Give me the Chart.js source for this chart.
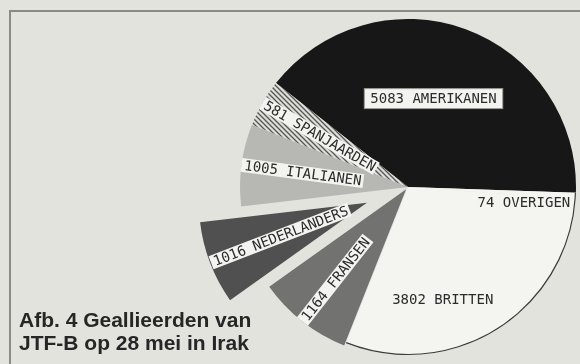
<!DOCTYPE html>
<html>
<head>
<meta charset="utf-8">
<script src="https://cdn.jsdelivr.net/npm/chart.js@4"></script>
<style>
  html, body { margin:0; padding:0; background:#e3e3de; }
  #wrap { position:relative; width:580px; height:364px; overflow:hidden; background:#e3e3de; }
  #frame { position:absolute; left:9px; top:10px; width:600px; height:400px;
           border-top:2px solid #8a8a86; border-left:2px solid #8a8a86; }
  #chart { position:absolute; left:0; top:0; }
  #caption { position:absolute; left:19px; top:308px; font:bold 21px/23px "Liberation Sans", Arial, sans-serif;
             color:#262626; white-space:nowrap; }
</style>
</head>
<body>
<div id="wrap">
  <div id="frame"></div>
  <canvas id="chart" width="580" height="364"></canvas>
  <div id="caption">Afb. 4 Geallieerden van<br>JTF-B op 28 mei in Irak</div>
</div>
<script>
// troops per nation, clockwise starting at the top-left edge of the black slice
const nations = ['AMERIKANEN', 'OVERIGEN', 'BRITTEN', 'FRANSEN', 'NEDERLANDERS', 'ITALIANEN', 'SPANJAARDEN'];
const troops  = [5083, 74, 3802, 1164, 1016, 1005, 581];

// hatch for the spanish slice
function hatch() {
  const c = document.createElement('canvas');
  c.width = 5; c.height = 5;
  const g = c.getContext('2d');
  g.fillStyle = '#dededa'; g.fillRect(0, 0, 5, 5);
  g.strokeStyle = '#555553'; g.lineWidth = 1.3;
  g.beginPath();
  g.moveTo(-1, -1); g.lineTo(6, 6);
  g.moveTo(-1, 4); g.lineTo(1, 6);
  g.moveTo(4, -1); g.lineTo(6, 1);
  g.stroke();
  return document.getElementById('chart').getContext('2d').createPattern(c, 'repeat');
}

const fills   = ['#171717', '#f4f4f1', '#f4f4f1', '#727270', '#505050', '#b7b7b3', hatch()];
const explode = [0, 0, 0, 3, 44, 0, 0];
const outline = [false, true, true, false, false, false, false];
// label placement: radial = along the slice, flat = horizontal
const place = [
  { mode:'flat', r:92, turn:-4, box:true },
  { mode:'flat', r:163, turn:2.5, align:'right' },
  { mode:'flat', r:118, turn:15 },
  { mode:'radial', r:165 },
  { mode:'radial', r:164 },
  { mode:'radial', r:165 },
  { mode:'radial', r:165 },
];

const explodePlugin = {
  id: 'explode',
  afterDatasetUpdate(chart, args) {
    args.meta.data.forEach((el, i) => {
      if (!explode[i]) return;
      const mid = (el.startAngle + el.endAngle) / 2;
      el.x += Math.cos(mid) * explode[i];
      el.y += Math.sin(mid) * explode[i];
    });
  }
};

const labelPlugin = {
  id: 'sliceLabels',
  afterDatasetsDraw(chart) {
    const ctx = chart.ctx;
    const arcs = chart.getDatasetMeta(0).data;
    ctx.save();
    // thin rim on the white slices
    ctx.strokeStyle = '#3c3c3c'; ctx.lineWidth = 1.2;
    arcs.forEach((el, i) => {
      if (!outline[i]) return;
      ctx.beginPath();
      ctx.arc(el.x, el.y, el.outerRadius - 0.5, el.startAngle, el.endAngle);
      ctx.stroke();
    });

    ctx.font = '14px "DejaVu Sans Mono", "Liberation Mono", monospace';
    ctx.textBaseline = 'middle';
    arcs.forEach((el, i) => {
      const p = place[i];
      const txt = troops[i] + ' ' + nations[i];
      const w = ctx.measureText(txt).width;
      const mid = (el.startAngle + el.endAngle) / 2 + (p.turn || 0) * Math.PI / 180;
      const px = el.x + Math.cos(mid) * p.r;
      const py = el.y + Math.sin(mid) * p.r;
      ctx.save();
      ctx.translate(px, py);
      if (p.mode === 'radial') {
        ctx.rotate(mid + Math.PI);
        ctx.fillStyle = '#f3f3f0';
        ctx.fillRect(-3, -7, w + 5, 14);
        ctx.textAlign = 'left';
        ctx.fillStyle = '#2c2c2c';
        ctx.fillText(txt, 0, 1);
      } else {
        const x0 = p.align === 'right' ? -w : -w / 2;
        if (p.box) {
          ctx.fillStyle = '#f3f3f0';
          ctx.fillRect(x0 - 6, -10, w + 12, 20);
          ctx.strokeStyle = '#9a9a96'; ctx.lineWidth = 1;
          ctx.strokeRect(x0 - 6, -10, w + 12, 20);
        }
        ctx.textAlign = 'left';
        ctx.fillStyle = '#2c2c2c';
        ctx.fillText(txt, x0, 1);
      }
      ctx.restore();
    });
    ctx.restore();
  }
};

new Chart(document.getElementById('chart'), {
  type: 'pie',
  data: {
    labels: nations,
    datasets: [{
      data: troops,
      backgroundColor: fills,
      borderWidth: 0,
      clip: false,
    }]
  },
  options: {
    responsive: false,
    animation: false,
    events: [],
    rotation: -51.8,
    radius: 168,
    layout: { padding: { left: 236, top: 10, right: 0, bottom: 0 } },
    plugins: { legend: { display: false }, tooltip: { enabled: false } },
  },
  plugins: [explodePlugin, labelPlugin],
});
</script>
</body>
</html>
